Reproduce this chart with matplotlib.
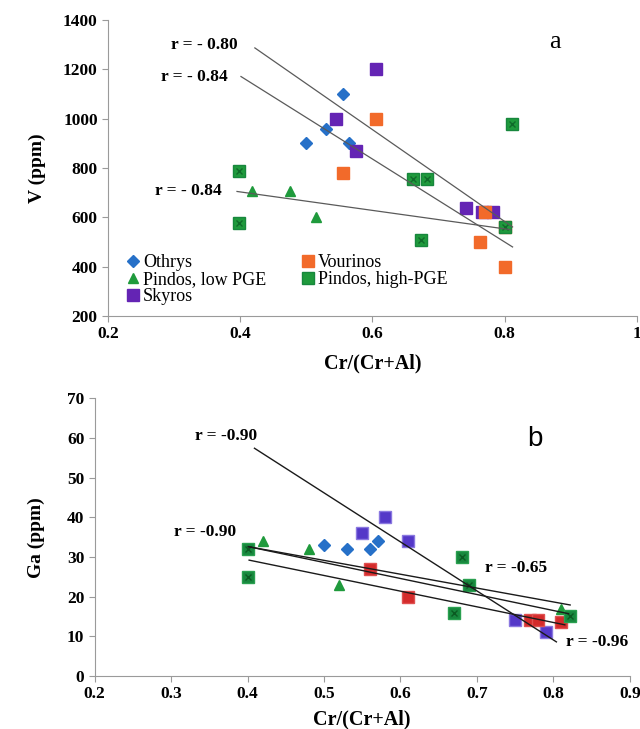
import matplotlib
matplotlib.use("Agg")
import matplotlib.pyplot as plt

plt.rcParams["font.family"] = ["Liberation Serif", "DejaVu Serif"]

# ---- panel a: V vs Cr/(Cr+Al)
oth_x = [0.50, 0.53, 0.555, 0.565]
oth_v = [900, 960, 1100, 900]
vou_x = [0.555, 0.605, 0.762, 0.77, 0.80, 0.80]
vou_v = [780, 1000, 500, 620, 400, 560]
plo_x = [0.417, 0.475, 0.515, 0.80]
plo_v = [707, 707, 600, 560]
phi_x = [0.398, 0.398, 0.661, 0.682, 0.673, 0.811, 0.80]
phi_v = [790, 578, 757, 757, 510, 978, 560]
sky_x = [0.605, 0.545, 0.575, 0.742, 0.765, 0.782]
sky_v = [1200, 1000, 868, 638, 620, 620]

lines_a = [([0.422, 0.812], [1287, 561]),
           ([0.401, 0.812], [1171, 480]),
           ([0.395, 0.809], [705, 550])]
labels_a = [("r = - 0.80", 0.345, 1300),
            ("r = - 0.84", 0.33, 1170),
            ("r = - 0.84", 0.322, 705)]

# ---- panel b: Ga vs Cr/(Cr+Al)
oth_x_b = [0.50, 0.53, 0.56, 0.57]
oth_ga = [33, 32, 32, 34]
vou_x_b = [0.56, 0.61, 0.77, 0.78, 0.81]
vou_ga = [27, 20, 14, 14, 13.5]
plo_x_b = [0.42, 0.48, 0.52, 0.81]
plo_ga = [34, 32, 23, 17]
phi_x_b = [0.40, 0.40, 0.68, 0.69, 0.67, 0.822]
phi_ga = [32, 25, 30, 23, 16, 15]
sky_x_b = [0.55, 0.58, 0.61, 0.75, 0.79]
sky_ga = [36, 40, 34, 14, 11]

lines_b = [([0.409, 0.804], [57.4, 8.6]),
           ([0.401, 0.822], [32.6, 17.9]),
           ([0.401, 0.82], [32.6, 15.7]),
           ([0.402, 0.815], [29.2, 12.9])]
labels_b = [("r = -0.90", 0.372, 60.5),
            ("r = -0.90", 0.345, 36.2),
            ("r = -0.65", 0.751, 27.1),
            ("r = -0.96", 0.857, 8.6)]

blue = "#2670c8"
orange = "#f26a2a"
red = "#d42b2b"
green = "#1f9a3c"
sq_green = "#17873d"
purple = "#6424b4"
purple_b = "#5438c8"

fig = plt.figure(figsize=(6.4, 7.29), dpi=100)
ax1 = fig.add_axes([0.169, 0.5665, 0.826, 0.406])
ax2 = fig.add_axes([0.148, 0.0727, 0.836, 0.381])


def style(ax):
    for s in ["top", "right"]:
        ax.spines[s].set_visible(False)
    for s in ["left", "bottom"]:
        ax.spines[s].set_color("#9a9a9a")
    ax.tick_params(direction="out", length=4, color="#9a9a9a", labelsize=12.5)
    for lab in ax.get_xticklabels() + ax.get_yticklabels():
        lab.set_fontweight("bold")


# panel a
ax1.plot(oth_x, oth_v, "D", color=blue, ms=6, ls="none", label="Othrys")
ax1.plot(plo_x, plo_v, "^", color=green, ms=7, ls="none", label="Pindos, low PGE")
ax1.plot(sky_x, sky_v, "s", color=purple, ms=9, ls="none", label="Skyros")
ax1.plot(vou_x, vou_v, "s", color=orange, ms=8, ls="none", label="Vourinos")
ax1.plot(phi_x, phi_v, "s", color=green, mec=sq_green, ms=9, ls="none",
         label="Pindos, high-PGE")
ax1.plot(phi_x, phi_v, "x", color="#0f6a2a", ms=4, mew=1, ls="none")
for xs, ys in lines_a:
    ax1.plot(xs, ys, color="#5a5a5a", lw=0.9)
for txt, x, y in labels_a:
    ax1.text(x, y, txt, fontsize=12.5, fontweight="bold", ha="center", va="center")
ax1.text(0.876, 1310, "a", fontsize=19, ha="center", va="center")
ax1.set_xlim(0.2, 1.0)
ax1.set_ylim(200, 1400)
ax1.set_xticks([0.2, 0.4, 0.6, 0.8, 1.0])
ax1.set_xticklabels(["0.2", "0.4", "0.6", "0.8", "1"])
ax1.set_yticks(range(200, 1401, 200))
ax1.set_xlabel("Cr/(Cr+Al)", fontsize=14.5, fontweight="bold", labelpad=8)
ax1.set_ylabel("V (ppm)", fontsize=14, fontweight="bold", labelpad=12)
ax1.legend(loc="lower left", bbox_to_anchor=(0.01, 0.0), ncol=2, frameon=False,
           fontsize=13, handletextpad=0.05, labelspacing=0.0, columnspacing=1.8,
           handlelength=1.0, borderpad=0.1)
style(ax1)

# panel b
ax2.plot(oth_x_b, oth_ga, "D", color=blue, ms=6, ls="none")
ax2.plot(plo_x_b, plo_ga, "^", color=green, ms=7, ls="none")
ax2.plot(sky_x_b, sky_ga, "s", color=purple_b, mec="#8a78e0", ms=9, ls="none")
ax2.plot(vou_x_b, vou_ga, "s", color=red, mec="#e05050", ms=9, ls="none")
ax2.plot(phi_x_b, phi_ga, "s", color=sq_green, mec="#2aa050", ms=9, ls="none")
ax2.plot(phi_x_b, phi_ga, "x", color="#0b5a22", ms=4, mew=1, ls="none")
for xs, ys in lines_b:
    ax2.plot(xs, ys, color="#1a1a1a", lw=1.0)
for txt, x, y in labels_b:
    ax2.text(x, y, txt, fontsize=12.5, fontweight="bold", ha="center", va="center")
ax2.text(0.776, 59.7, "b", fontsize=20, family="Liberation Sans",
         ha="center", va="center")
ax2.set_xlim(0.2, 0.9)
ax2.set_ylim(0, 70)
ax2.set_xticks([0.2, 0.3, 0.4, 0.5, 0.6, 0.7, 0.8, 0.9])
ax2.set_yticks(range(0, 71, 10))
ax2.set_xlabel("Cr/(Cr+Al)", fontsize=14.5, fontweight="bold", labelpad=5)
ax2.set_ylabel("Ga (ppm)", fontsize=14, fontweight="bold", labelpad=16)
style(ax2)

fig.savefig("out.png", dpi=100)
